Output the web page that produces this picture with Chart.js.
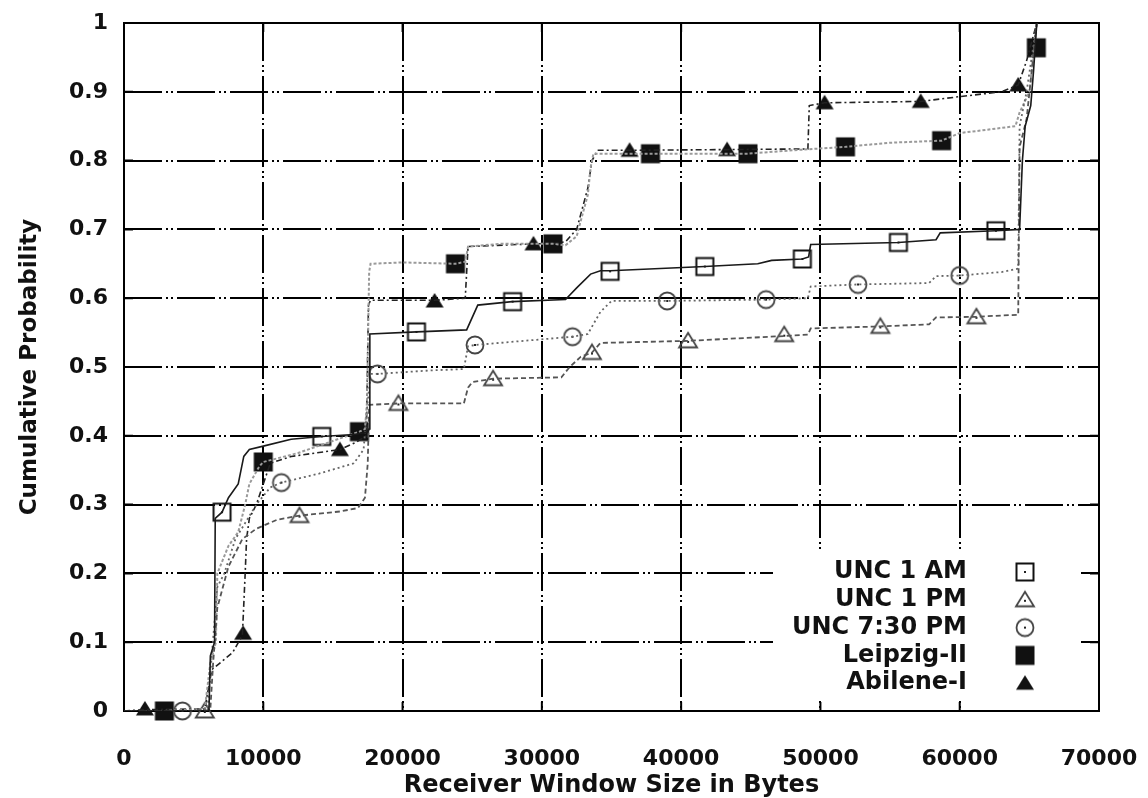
<!DOCTYPE html>
<html lang="en">
<head>
<meta charset="UTF-8">
<title>Receiver Window Size CDF</title>
<script src="https://cdn.jsdelivr.net/npm/chart.js"></script>
<style>
  html, body { margin: 0; padding: 0; background: #fff; }
  #wrap { width: 1148px; height: 798px; }
</style>
</head>
<body>
<div id="wrap"><canvas id="cdf_chart"></canvas></div>
<script>
// series names, in legend order
const seriesNames = ["UNC 1 AM", "UNC 1 PM", "UNC 7:30 PM", "Leipzig-II", "Abilene-I"];

// CDF curves (bytes, cumulative probability)
const unc1amX = [0, 6100, 6200, 6500, 6550, 7040, 7500, 8200, 8600, 9000, 10000, 12000, 14200, 16500, 17500, 17600, 17650, 21000, 24600, 25400, 27860, 31700, 32500, 33500, 34200, 34900, 41700, 45500, 46500, 48700, 49150, 49300, 55600, 58300, 58600, 62600, 64300, 64500, 64700, 65100, 65300, 65535];
const unc1amY = [0, 0, 0.08, 0.1, 0.28, 0.289, 0.31, 0.33, 0.37, 0.38, 0.385, 0.395, 0.399, 0.402, 0.405, 0.41, 0.548, 0.551, 0.554, 0.59, 0.595, 0.598, 0.615, 0.635, 0.64, 0.64, 0.646, 0.65, 0.655, 0.657, 0.66, 0.678, 0.681, 0.685, 0.695, 0.698, 0.70, 0.80, 0.85, 0.88, 0.93, 1];

const unc1pmX = [0, 5800, 6200, 6400, 6700, 7500, 8500, 9500, 11000, 12600, 15500, 16800, 17300, 17500, 17600, 19700, 24400, 24700, 25000, 26500, 31400, 32000, 32800, 33600, 34200, 40500, 47400, 49100, 49300, 54300, 57800, 58300, 61200, 64200, 64300, 64800, 65535];
const unc1pmY = [0, 0, 0.003, 0.07, 0.15, 0.21, 0.25, 0.265, 0.278, 0.284, 0.29, 0.295, 0.31, 0.36, 0.445, 0.447, 0.447, 0.47, 0.478, 0.483, 0.485, 0.50, 0.515, 0.521, 0.535, 0.538, 0.545, 0.547, 0.556, 0.559, 0.562, 0.572, 0.573, 0.576, 0.82, 0.86, 1];

const unc730X = [0, 4200, 6000, 6300, 6700, 7200, 8000, 9500, 10500, 11300, 14000, 16500, 17200, 17500, 17700, 18200, 22000, 24400, 24700, 25200, 32200, 33300, 34200, 35000, 39000, 46100, 49100, 49300, 52700, 57800, 58300, 60000, 63000, 64200, 64300, 64800, 65535];
const unc730Y = [0, 0, 0.003, 0.08, 0.18, 0.20, 0.25, 0.30, 0.325, 0.332, 0.345, 0.36, 0.38, 0.45, 0.49, 0.49, 0.495, 0.497, 0.53, 0.532, 0.544, 0.548, 0.58, 0.596, 0.596, 0.598, 0.60, 0.617, 0.62, 0.622, 0.632, 0.633, 0.638, 0.643, 0.85, 0.9, 1];

const leipzigX = [0, 2900, 5800, 6200, 6600, 6700, 7500, 8200, 8700, 9000, 9700, 10000, 12500, 16900, 17300, 17450, 17600, 17700, 20000, 23800, 24500, 24700, 27000, 30800, 31700, 32500, 32800, 33300, 33500, 33700, 37800, 44800, 48000, 51800, 55000, 58700, 60000, 62000, 64000, 64300, 65000, 65535];
const leipzigY = [0, 0, 0.003, 0.07, 0.1, 0.2, 0.24, 0.26, 0.30, 0.33, 0.355, 0.362, 0.375, 0.406, 0.41, 0.45, 0.638, 0.65, 0.652, 0.65, 0.653, 0.675, 0.679, 0.679, 0.677, 0.69, 0.713, 0.75, 0.79, 0.81, 0.81, 0.81, 0.815, 0.82, 0.826, 0.829, 0.84, 0.845, 0.85, 0.87, 0.90, 1];

const abileneX = [0, 1500, 5800, 6300, 7800, 8500, 8700, 8800, 9000, 9500, 10500, 12000, 15500, 16600, 17400, 17550, 17700, 22300, 24500, 24700, 29400, 31000, 31700, 32500, 33300, 33600, 34000, 36300, 43300, 49100, 49200, 50300, 57200, 60000, 63000, 64200, 64800, 65535];
const abileneY = [0, 0.002, 0.003, 0.06, 0.085, 0.11, 0.2, 0.25, 0.28, 0.3, 0.36, 0.37, 0.38, 0.39, 0.4, 0.59, 0.597, 0.597, 0.6, 0.675, 0.679, 0.68, 0.682, 0.7, 0.76, 0.8, 0.815, 0.815, 0.816, 0.817, 0.88, 0.884, 0.886, 0.893, 0.9, 0.91, 0.945, 1];

// marker points on each curve
const unc1amMX = [7040, 14200, 21000, 27900, 34900, 41700, 48700, 55600, 62600];
const unc1amMY = [0.289, 0.399, 0.551, 0.595, 0.639, 0.646, 0.657, 0.681, 0.698];
const unc1pmMX = [5800, 12600, 19700, 26500, 33600, 40500, 47400, 54300, 61200];
const unc1pmMY = [0, 0.284, 0.447, 0.483, 0.521, 0.538, 0.547, 0.559, 0.573];
const unc730MX = [4200, 11300, 18200, 25200, 32200, 39000, 46100, 52700, 60000];
const unc730MY = [0, 0.332, 0.49, 0.532, 0.544, 0.596, 0.598, 0.62, 0.633];
const leipzigMX = [2900, 10000, 16900, 23800, 30800, 37800, 44800, 51800, 58700, 65500];
const leipzigMY = [0, 0.362, 0.406, 0.65, 0.679, 0.81, 0.81, 0.82, 0.829, 0.964];
const abileneMX = [1500, 8550, 15500, 22300, 29400, 36300, 43300, 50300, 57200, 64200];
const abileneMY = [0.003, 0.113, 0.38, 0.596, 0.679, 0.815, 0.816, 0.884, 0.886, 0.91];

const xTicks = [0, 10000, 20000, 30000, 40000, 50000, 60000, 70000];
const yTicks = [0, 0.1, 0.2, 0.3, 0.4, 0.5, 0.6, 0.7, 0.8, 0.9, 1];

function pts(xs, ys) {
  return xs.map((v, i) => ({ x: v, y: ys[i] }));
}

// small canvases used as point styles
function marker(kind) {
  const c = document.createElement("canvas");
  c.width = 24; c.height = 24;
  const g = c.getContext("2d");
  const m = 12;
  g.lineWidth = 2;
  g.strokeStyle = "#111";
  g.fillStyle = "#111";
  if (kind === "square") {
    g.strokeRect(m - 8.5, m - 8.5, 17, 17);
  } else if (kind === "triangle") {
    g.strokeStyle = "#444";
    g.lineWidth = 1.8;
    g.beginPath(); g.moveTo(m, m - 8); g.lineTo(m + 9, m + 6.5); g.lineTo(m - 9, m + 6.5); g.closePath(); g.stroke();
  } else if (kind === "circle") {
    g.strokeStyle = "#444";
    g.lineWidth = 1.8;
    g.beginPath(); g.arc(m, m, 8.5, 0, Math.PI * 2); g.stroke();
  } else if (kind === "fsquare") {
    g.fillRect(m - 9.5, m - 9.5, 19, 19);
  } else if (kind === "ftriangle") {
    g.beginPath(); g.moveTo(m, m - 8); g.lineTo(m + 9, m + 6.5); g.lineTo(m - 9, m + 6.5); g.closePath(); g.fill();
  }
  if (kind === "square" || kind === "triangle" || kind === "circle") {
    g.fillStyle = "#222";
    g.fillRect(m - 1, (kind === "triangle" ? m + 1 : m) - 1, 2, 2);
  }
  return c;
}

const markers = [marker("square"), marker("triangle"), marker("circle"), marker("fsquare"), marker("ftriangle")];
const lineStyles = [
  { color: "#1a1a1a", width: 1.6, dash: [] },
  { color: "#555", width: 1.8, dash: [5, 3] },
  { color: "#666", width: 1.8, dash: [2, 3] },
  { color: "#9a9a9a", width: 2, dash: [3, 2] },
  { color: "#222", width: 1.6, dash: [6, 3, 2, 3] }
];
const curves = [
  pts(unc1amX, unc1amY), pts(unc1pmX, unc1pmY), pts(unc730X, unc730Y),
  pts(leipzigX, leipzigY), pts(abileneX, abileneY)
];
const markPts = [
  pts(unc1amMX, unc1amMY), pts(unc1pmMX, unc1pmMY), pts(unc730MX, unc730MY),
  pts(leipzigMX, leipzigMY), pts(abileneMX, abileneMY)
];

const datasets = [];
curves.forEach((d, i) => {
  datasets.push({
    label: seriesNames[i], data: d, showLine: true, pointRadius: 0,
    borderColor: lineStyles[i].color, borderWidth: lineStyles[i].width,
    borderDash: lineStyles[i].dash, tension: 0, fill: false
  });
});
markPts.forEach((d, i) => {
  datasets.push({
    label: seriesNames[i] + " marks", data: d, showLine: false,
    pointStyle: markers[i], pointRadius: 9, clip: false
  });
});

const legendFont = "bold 24px 'DejaVu Sans'";

// frame, inside ticks and the legend panel
const framePlugin = {
  id: "frame",
  beforeDatasetsDraw(chart) {
    const { ctx, chartArea: a, scales: { x, y } } = chart;
    ctx.save();
    ctx.fillStyle = "#fff";
    ctx.fillRect(a.right - 326, a.bottom - 158, 308, 147);
    ctx.strokeStyle = "#000";
    ctx.lineWidth = 2;
    ctx.beginPath();
    xTicks.forEach(v => {
      const px = x.getPixelForValue(v);
      ctx.moveTo(px, a.bottom); ctx.lineTo(px, a.bottom - 9);
      ctx.moveTo(px, a.top); ctx.lineTo(px, a.top + 9);
    });
    yTicks.forEach(v => {
      const py = y.getPixelForValue(v);
      ctx.moveTo(a.left, py); ctx.lineTo(a.left + 9, py);
      ctx.moveTo(a.right, py); ctx.lineTo(a.right - 9, py);
    });
    ctx.stroke();
    ctx.strokeRect(a.left, a.top, a.right - a.left, a.bottom - a.top);
    ctx.restore();
  },
  afterDraw(chart) {
    const { ctx, chartArea: a } = chart;
    ctx.save();
    ctx.font = legendFont;
    ctx.fillStyle = "#111";
    ctx.textAlign = "right";
    ctx.textBaseline = "middle";
    seriesNames.forEach((name, i) => {
      const rowY = a.bottom - 139 + i * 27.8;
      ctx.fillText(name, a.right - 132, rowY);
      const m = markers[i];
      ctx.drawImage(m, a.right - 74 - m.width / 2, rowY - m.height / 2);
    });
    ctx.restore();
  }
};

const tickFont = { family: "'DejaVu Sans'", size: 22, weight: "bold" };
const gridDash = [38, 4, 2, 3, 2, 4];

new Chart("cdf_chart", {
  type: "scatter",
  data: { datasets: datasets },
  options: {
    responsive: true,
    maintainAspectRatio: false,
    animation: false,
    layout: { padding: { left: 0, right: 49, top: 23, bottom: 0 } },
    plugins: { legend: { display: false }, tooltip: { enabled: false } },
    scales: {
      x: {
        type: "linear", min: 0, max: 70000,
        afterBuildTicks: s => { s.ticks = xTicks.map(v => ({ value: v })); },
        afterFit: s => { s.height = 87; s.paddingLeft = 0; s.paddingRight = 0; },
        grid: { color: "#000", lineWidth: 2, drawTicks: false },
        border: { display: false, dash: gridDash },
        ticks: { color: "#111", font: tickFont, padding: 35, maxRotation: 0, callback: v => String(v) },
        title: {
          display: true, text: "Receiver Window Size in Bytes", color: "#111",
          font: { family: "'DejaVu Sans'", size: 24, weight: "bold" }, padding: { top: 0, bottom: -2 }
        }
      },
      y: {
        type: "linear", min: 0, max: 1,
        afterBuildTicks: s => { s.ticks = yTicks.map(v => ({ value: v })); },
        afterFit: s => { s.width = 124; s.paddingTop = 0; s.paddingBottom = 0; },
        grid: { color: "#000", lineWidth: 2, drawTicks: false },
        border: { display: false, dash: gridDash },
        ticks: { color: "#111", font: tickFont, padding: 16, callback: v => String(Math.round(v * 10) / 10) },
        title: {
          display: true, text: "Cumulative Probability", color: "#111",
          font: { family: "'DejaVu Sans'", size: 23, weight: "bold" }, padding: { top: 16, bottom: 0 }
        }
      }
    }
  },
  plugins: [framePlugin]
});
</script>
</body>
</html>
